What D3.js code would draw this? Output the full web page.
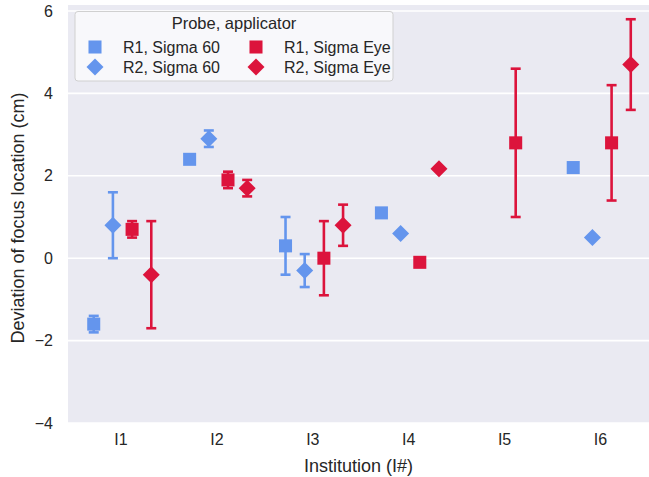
<!DOCTYPE html>
<html>
<head>
<meta charset="utf-8">
<script src="https://cdn.jsdelivr.net/npm/d3@7"></script>
<style>
  body { margin: 0; background: #fff; }
  text { font-family: "Liberation Sans", Arial, sans-serif; fill: #262626; }
</style>
</head>
<body>
<div id="chart"></div>
<script>
// ---------------- data ----------------
var institutions = ["I1", "I2", "I3", "I4", "I5", "I6"];
var groups = ["R1, Sigma 60", "R2, Sigma 60", "R1, Sigma Eye", "R2, Sigma Eye"];
var yTicks = [-4, -2, 0, 2, 4, 6];

// mean deviation per institution (null = no measurement)
var r1s60   = [-1.6, 2.4, 0.3, 1.1, null, 2.2];
var r1s60Lo = [-1.8, 2.3, -0.4, null, null, null];
var r1s60Hi = [-1.4, 2.5, 1.0, null, null, null];

var r2s60   = [0.8, 2.9, -0.3, 0.6, null, 0.5];
var r2s60Lo = [0.0, 2.7, -0.7, null, null, null];
var r2s60Hi = [1.6, 3.1, 0.1, null, null, null];

var r1se   = [0.7, 1.9, 0.0, -0.1, 2.8, 2.8];
var r1seLo = [0.5, 1.7, -0.9, -0.12, 1.0, 1.4];
var r1seHi = [0.9, 2.1, 0.9, -0.08, 4.6, 4.2];

var r2se   = [-0.4, 1.7, 0.8, 2.17, null, 4.7];
var r2seLo = [-1.7, 1.5, 0.3, 2.15, null, 3.6];
var r2seHi = [0.9, 1.9, 1.3, 2.19, null, 5.8];

var series = [
  { name: groups[0], mean: r1s60, lo: r1s60Lo, hi: r1s60Hi, color: "#6495ED", shape: "square" },
  { name: groups[1], mean: r2s60, lo: r2s60Lo, hi: r2s60Hi, color: "#6495ED", shape: "diamond" },
  { name: groups[2], mean: r1se,  lo: r1seLo,  hi: r1seHi,  color: "#DC143C", shape: "square" },
  { name: groups[3], mean: r2se,  lo: r2seLo,  hi: r2seHi,  color: "#DC143C", shape: "diamond" }
];
var dodge = [-0.3, -0.1, 0.1, 0.3];

// ---------------- setup ----------------
var width = 649, height = 477;
var plotLeft = 68, plotRight = 650, plotTop = 5, plotBottom = 423;

var svg = d3.select("#chart").append("svg")
  .attr("width", width).attr("height", height);

var xScale = d3.scaleLinear().domain([0, 5]).range([122.5, 602]);
var yScale = d3.scaleLinear().domain([-4, 6]).range([423, 11]);

// background
svg.append("rect")
  .attr("x", plotLeft).attr("y", plotTop)
  .attr("width", plotRight - plotLeft).attr("height", plotBottom - plotTop)
  .attr("fill", "#EAEAF2");

// grid
svg.append("g").selectAll("line")
  .data(yTicks).enter().append("line")
  .attr("x1", plotLeft).attr("x2", plotRight)
  .attr("y1", function(d) { return yScale(d); })
  .attr("y2", function(d) { return yScale(d); })
  .attr("stroke", "#fff").attr("stroke-width", 1.6);

// axes
var yAxis = d3.axisLeft(yScale).tickValues(yTicks).tickSize(0).tickPadding(15)
  .tickFormat(function(d) { return d < 0 ? "\u2212" + Math.abs(d) : d; });
var gy = svg.append("g").attr("transform", "translate(" + plotLeft + ",0)").call(yAxis);
gy.select(".domain").remove();
gy.selectAll("text").style("font-size", "16px").attr("fill", "#262626");

var xAxis = d3.axisBottom(xScale).tickValues(d3.range(institutions.length)).tickSize(0).tickPadding(11)
  .tickFormat(function(i) { return institutions[i]; });
var gx = svg.append("g").attr("transform", "translate(-2," + plotBottom + ")").call(xAxis);
gx.select(".domain").remove();
gx.selectAll("text").style("font-size", "16px").attr("fill", "#262626");

// axis labels
svg.append("text")
  .attr("x", (plotLeft + 649) / 2).attr("y", 472)
  .attr("text-anchor", "middle").style("font-size", "18px")
  .text("Institution (I#)");

svg.append("text")
  .attr("transform", "translate(24," + ((plotTop + plotBottom) / 2 + 4) + ") rotate(-90)")
  .attr("text-anchor", "middle").style("font-size", "18px")
  .text("Deviation of focus location (cm)");

// markers
var squareSym = d3.symbol().type(d3.symbolSquare).size(170);
function diamondPath(r) {
  return "M0," + (-r) + "L" + r + ",0L0," + r + "L" + (-r) + ",0Z";
}

series.forEach(function(s, k) {
  var g = svg.append("g");
  var pts = s.mean.map(function(m, i) {
    return { i: i, m: m, lo: s.lo[i], hi: s.hi[i] };
  }).filter(function(d) { return d.m !== null; });

  var errPts = pts.filter(function(d) { return d.lo !== null; });
  // vertical error lines
  g.selectAll("line.err").data(errPts).enter().append("line")
    .attr("x1", function(d) { return xScale(d.i + dodge[k]); })
    .attr("x2", function(d) { return xScale(d.i + dodge[k]); })
    .attr("y1", function(d) { return yScale(d.lo); })
    .attr("y2", function(d) { return yScale(d.hi); })
    .attr("stroke", s.color).attr("stroke-width", 2.6);
  // caps
  ["lo", "hi"].forEach(function(key) {
    g.selectAll("line.cap" + key).data(errPts).enter().append("line")
      .attr("x1", function(d) { return xScale(d.i + dodge[k]) - 5; })
      .attr("x2", function(d) { return xScale(d.i + dodge[k]) + 5; })
      .attr("y1", function(d) { return yScale(d[key]); })
      .attr("y2", function(d) { return yScale(d[key]); })
      .attr("stroke", s.color).attr("stroke-width", 2.6);
  });

  g.selectAll("path.pt").data(pts).enter().append("path")
    .attr("transform", function(d) {
      return "translate(" + xScale(d.i + dodge[k]) + "," + yScale(d.m) + ")";
    })
    .attr("d", s.shape === "square" ? squareSym() : diamondPath(8.5))
    .attr("fill", s.color);
});

// ---------------- legend ----------------
var legend = svg.append("g");
legend.append("rect")
  .attr("x", 75).attr("y", 11.5).attr("width", 318).attr("height", 69.5)
  .attr("rx", 3).attr("fill", "#fafafc").attr("fill-opacity", 0.9)
  .attr("stroke", "#d0d0d0").attr("stroke-width", 1);

legend.append("text")
  .attr("x", 234).attr("y", 29)
  .attr("text-anchor", "middle").style("font-size", "16.5px")
  .text("Probe, applicator");

var legendPos = [[95, 47], [95, 67], [256, 47], [256, 67]];
series.forEach(function(s, k) {
  var p = legendPos[k];
  legend.append("path")
    .attr("transform", "translate(" + p[0] + "," + p[1] + ")")
    .attr("d", s.shape === "square" ? squareSym() : diamondPath(8.5))
    .attr("fill", s.color);
  legend.append("text")
    .attr("x", p[0] + 28).attr("y", p[1] + 6)
    .style("font-size", "16px")
    .text(s.name);
});
</script>
</body>
</html>
